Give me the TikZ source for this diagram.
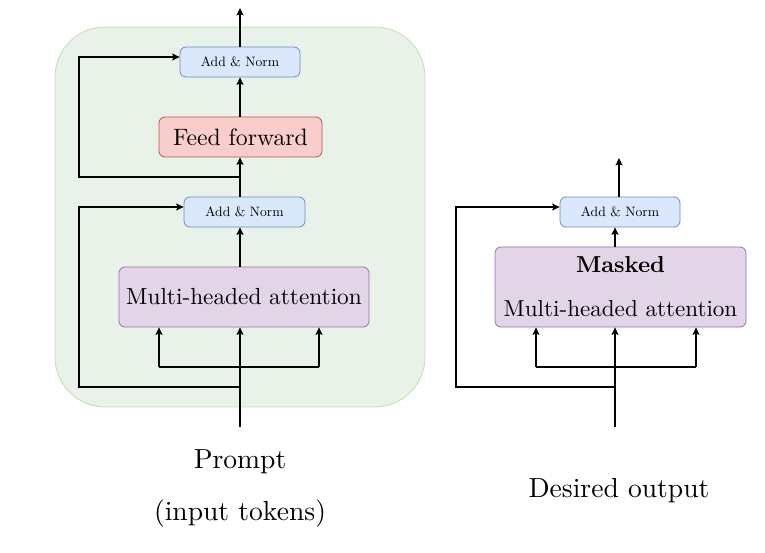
\documentclass[tikz,border=0pt]{standalone}
\usepackage{fontspec}
\setmainfont{lmroman10-regular.otf}[BoldFont=lmroman10-bold.otf]
\usetikzlibrary{arrows.meta}
\definecolor{gfill}{HTML}{E8F2E8}
\definecolor{gdraw}{HTML}{C4DDB5}
\definecolor{bfill}{HTML}{DAE8FC}
\definecolor{bdraw}{HTML}{6C8EBF}
\definecolor{rfill}{HTML}{F8CECC}
\definecolor{rdraw}{HTML}{B85450}
\definecolor{pfill}{HTML}{E1D5E7}
\definecolor{pdraw}{HTML}{9673A6}
\tikzset{
  box/.style={rounded corners=6pt, line width=0.8pt, inner sep=0pt, align=center},
  addnorm/.style={box, fill=bfill, draw=bdraw, minimum width=120pt, minimum height=30pt, font=\fontsize{13.6}{16}\selectfont},
  ffbox/.style={box, fill=rfill, draw=rdraw, minimum width=163pt, minimum height=40pt, font=\fontsize{23.7}{28}\selectfont},
  attbox/.style={box, fill=pfill, draw=pdraw, minimum width=250pt, minimum height=60pt, font=\fontsize{23.3}{28}\selectfont},
  lbl/.style={anchor=base, inner sep=0pt, font=\fontsize{27.6}{33}\selectfont},
  conn/.style={line width=1.1pt, -{Stealth[length=7.5pt,width=7pt,inset=1.5pt]}},
  wire/.style={line width=1.1pt},
}
\begin{document}
\begin{tikzpicture}[x=1pt,y=-1pt]
\useasboundingbox (0,0) rectangle (765,553);
% green container
\node[draw=gdraw, fill=gfill, line width=0.8pt, rounded corners=50pt, minimum width=370pt, minimum height=380pt, inner sep=0pt] (enc) at (240,217) {};

% left column
\node[addnorm] (an1) at (240,62) {Add \& Norm};
\node[ffbox] (ff) at (240.5,137) {Feed forward};
\node[addnorm, minimum width=121pt] (an2) at (244.5,212) {Add \& Norm};
\node[attbox] (mha) at (244,297) {Multi-headed attention};

\coordinate (in1) at (240,427);
\coordinate (out1) at (240,8);
\coordinate (r1) at (240,387);
\coordinate (q1) at (240,177);
\coordinate (sl1) at (159,367);
\coordinate (sr1) at (319,367);

\draw[conn] (in1) -- (in1 |- mha.south);
\draw[wire] (sl1) -- (sr1);
\draw[conn] (sl1) -- (sl1 |- mha.south);
\draw[conn] (sr1) -- (sr1 |- mha.south);
\draw[conn] (r1) -- (79,387) -- (79,207) -- (an2.west |- 0,207);
\draw[conn] (in1 |- mha.north) -- (in1 |- an2.south);
\draw[conn] (in1 |- an2.north) -- (in1 |- ff.south);
\draw[conn] (q1) -- (79,177) -- (79,57) -- (an1.west |- 0,57);
\draw[conn] (in1 |- ff.north) -- (an1.south);
\draw[conn] (an1.north) -- (out1);

% right column
\node[addnorm] (an3) at (620,212) {Add \& Norm};
\node[attbox, minimum width=251pt, minimum height=80pt, font=\fontsize{23.1}{44}\selectfont] (mmha) at (620.5,287) {\textbf{Masked}\\Multi-headed attention};

\coordinate (in2) at (615,427);
\coordinate (out2) at (619,158);
\coordinate (r2) at (615,387);
\coordinate (sl2) at (536,367);
\coordinate (sr2) at (696,367);

\draw[conn] (in2) -- (in2 |- mmha.south);
\draw[wire] (sl2) -- (sr2);
\draw[conn] (sl2) -- (sl2 |- mmha.south);
\draw[conn] (sr2) -- (sr2 |- mmha.south);
\draw[conn] (r2) -- (456,387) -- (456,207) -- (an3.west |- 0,207);
\draw[conn] (in2 |- mmha.north) -- (in2 |- an3.south);
\draw[conn] (out2 |- an3.north) -- (out2);

% labels
\node[lbl] (p1) at (240,468) {Prompt};
\node[lbl] (p2) at (240,520) {(input tokens)};
\node[lbl] (p3) at (619,497) {Desired output};
\end{tikzpicture}
\end{document}
